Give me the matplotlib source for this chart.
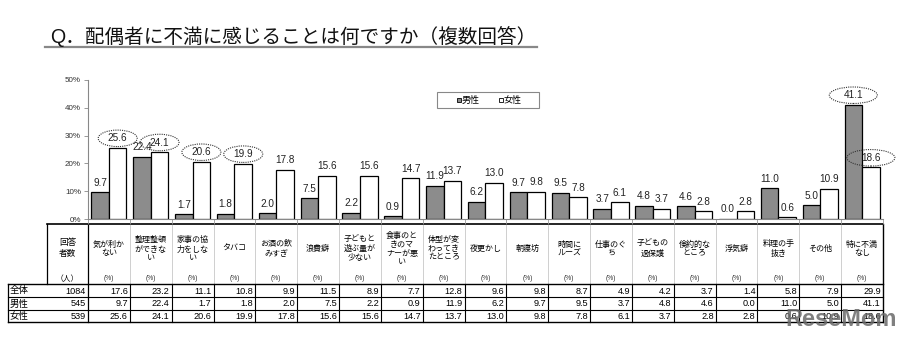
import numpy as np
import matplotlib
matplotlib.use('Agg')
import matplotlib.pyplot as plt
from matplotlib.patches import Ellipse, Rectangle

plt.rcParams['font.family'] = ['Liberation Sans', 'Noto Sans CJK JP', 'DejaVu Sans']

# 設問項目（表の見出し用に改行入り）
categories = ['気が利か\nない', '整理整頓\nができな\nい', '家事の協\n力をしな\nい', 'タバコ',
              'お酒の飲\nみすぎ', '浪費癖', '子どもと\n遊ぶ量が\n少ない', '食事のと\nきのマ\nナーが悪\nい',
              '体型が変\nわってき\nたところ', '夜更かし', '朝寝坊', '時間に\nルーズ', '仕事のぐ\nち',
              '子どもの\n過保護', '倹約的な\nところ', '浮気癖', '料理の手\n抜き', 'その他', '特に不満\nなし']

total = [17.6, 23.2, 11.1, 10.8, 9.9, 11.5, 8.9, 7.7, 12.8, 9.6, 9.8, 8.7, 4.9, 4.2, 3.7, 1.4, 5.8, 7.9, 29.9]
male = [9.7, 22.4, 1.7, 1.8, 2.0, 7.5, 2.2, 0.9, 11.9, 6.2, 9.7, 9.5, 3.7, 4.8, 4.6, 0.0, 11.0, 5.0, 41.1]
female = [25.6, 24.1, 20.6, 19.9, 17.8, 15.6, 15.6, 14.7, 13.7, 13.0, 9.8, 7.8, 6.1, 3.7, 2.8, 2.8, 0.6, 10.9, 18.6]

row_names = ['全体', '男性', '女性']
respondents = [1084, 545, 539]

# 点線の楕円で囲む値 (系列, 項目番号)
highlight = [('female', 0), ('female', 1), ('female', 2), ('female', 3), ('male', 18), ('female', 18)]

W, H = 903, 342
fig = plt.figure(figsize=(W / 100, H / 100), dpi=100)

# 表・タイトル用のピクセル座標レイヤー
ov = fig.add_axes([0, 0, 1, 1])
ov.set_xlim(0, W)
ov.set_ylim(H, 0)
ov.axis('off')

# グラフ領域
x0, x1, ytop, ybot = 88, 883, 80, 219
ax = fig.add_axes([x0 / W, 1 - ybot / H, (x1 - x0) / W, (ybot - ytop) / H])
ax.patch.set_alpha(0)
n = len(categories)
x = np.arange(n)
bw = 0.42
ax.bar(x - bw / 2, male, bw, color='#8c8c8c', edgecolor='black', linewidth=0.9, zorder=2)
ax.bar(x + bw / 2, female, bw, color='white', edgecolor='black', linewidth=0.9, zorder=2)
ax.set_xlim(-0.5, n - 0.5)
ax.set_ylim(0, 50)
ax.set_yticks(range(0, 51, 10))
ax.set_yticklabels([f'{v}%' for v in range(0, 51, 10)], fontsize=5.8, color='#333333')
ax.set_xticks([])
ax.set_xticks(np.arange(-0.5, n, 1), minor=True)
ax.tick_params(axis='x', which='minor', length=3.5, color='#999999', width=0.6)
ax.tick_params(axis='y', length=3, color='#888888', width=0.6, pad=2)
for s in ['top', 'right']:
    ax.spines[s].set_visible(False)
ax.spines['left'].set_color('#888888')
ax.spines['bottom'].set_color('#888888')
ax.spines['left'].set_linewidth(0.8)
ax.spines['bottom'].set_linewidth(0.8)

px_x = (x1 - x0) / n
px_y = (ybot - ytop) / 50
lab_off = 9.5 / px_y
series = {'male': (male, -bw / 2), 'female': (female, bw / 2)}
for key, (vals, off) in series.items():
    for i, v in enumerate(vals):
        ax.text(i + off, v + lab_off, f'{v:.1f}', ha='center', va='center', fontsize=7.2,
                color='#222222', clip_on=False, zorder=4)

for key, i in highlight:
    vals, off = series[key]
    w = 48 if i == n - 1 else 39
    e = Ellipse((i + off, vals[i] + lab_off), w / px_x, 16.5 / px_y, fill=False,
                linestyle=(0, (1, 1)), linewidth=0.8, edgecolor='#333333', clip_on=False, zorder=3)
    ax.add_patch(e)

# 凡例
ov.add_patch(Rectangle((437, 92), 102, 16, fill=False, edgecolor='#888888', linewidth=0.8))
ov.add_patch(Rectangle((457.5, 97.5), 3.5, 4, facecolor='#8c8c8c', edgecolor='black', linewidth=0.6))
ov.text(462, 100.5, '男性', fontsize=6.5, ha='left', va='center')
ov.add_patch(Rectangle((499.5, 97.5), 3.5, 4, facecolor='white', edgecolor='black', linewidth=0.6))
ov.text(504, 100.5, '女性', fontsize=6.5, ha='left', va='center')

# タイトル
ov.text(50, 37, 'Q．配偶者に不満に感じることは何ですか（複数回答）', fontsize=14.1,
        ha='left', va='center', color='#111111')
ov.plot([45, 537], [46.5, 46.5], color='#888888', linewidth=1.6)

# データテーブル
edges = x0 + np.arange(n + 1) * px_x
row_y = [284, 297, 310, 322]
for xe in edges[1:-1]:
    ov.plot([xe, xe], [224, 284], color='#c8c8c8', linewidth=0.6)
    ov.plot([xe, xe], [284, 322], color='black', linewidth=0.8)
ov.plot([47, x1], [224, 224], color='black', linewidth=1.2)
ov.plot([47, 47], [224, 284], color='black', linewidth=0.9)
ov.plot([x0, x0], [224, 322], color='black', linewidth=0.9)
ov.plot([x1, x1], [224, 322], color='black', linewidth=1.0)
ov.plot([8, 8], [284, 322], color='black', linewidth=0.9)
for yy in row_y:
    ov.plot([8, x1], [yy, yy], color='black', linewidth=1.0 if yy in (284, 322) else 0.8)

ov.text((47 + x0) / 2, 248, '回答\n者数', fontsize=6.2, ha='center', va='center',
        multialignment='center', linespacing=1.2)
ov.text((47 + x0) / 2, 279, '（人）', fontsize=5.6, ha='center', va='center')
for i, name in enumerate(categories):
    cx = (edges[i] + edges[i + 1]) / 2
    ov.text(cx, 249, name, fontsize=5.8, ha='center', va='center',
            multialignment='center', linespacing=1.2)
    ov.text(cx, 279, '(%)', fontsize=4.8, ha='center', va='center', color='#333333')

table_rows = [total, male, female]
for r, (name, cnt, vals) in enumerate(zip(row_names, respondents, table_rows)):
    cy = (row_y[r] + row_y[r + 1]) / 2 + 0.5
    ov.text(10, cy, name, fontsize=6.8, ha='left', va='center')
    ov.text(x0 - 2, cy, str(cnt), fontsize=6.6, ha='right', va='center')
    for i, v in enumerate(vals):
        ov.text(edges[i + 1] - 2, cy, f'{v:.1f}', fontsize=6.6, ha='right', va='center')

# ロゴ
ov.text(841, 319, 'ReseMom', fontsize=17, fontweight='bold', ha='center', va='center',
        color='#6a6a6a', alpha=0.85,
        family=['Liberation Sans Narrow', 'Liberation Sans', 'DejaVu Sans'])

fig.savefig('out.png', dpi=100)
